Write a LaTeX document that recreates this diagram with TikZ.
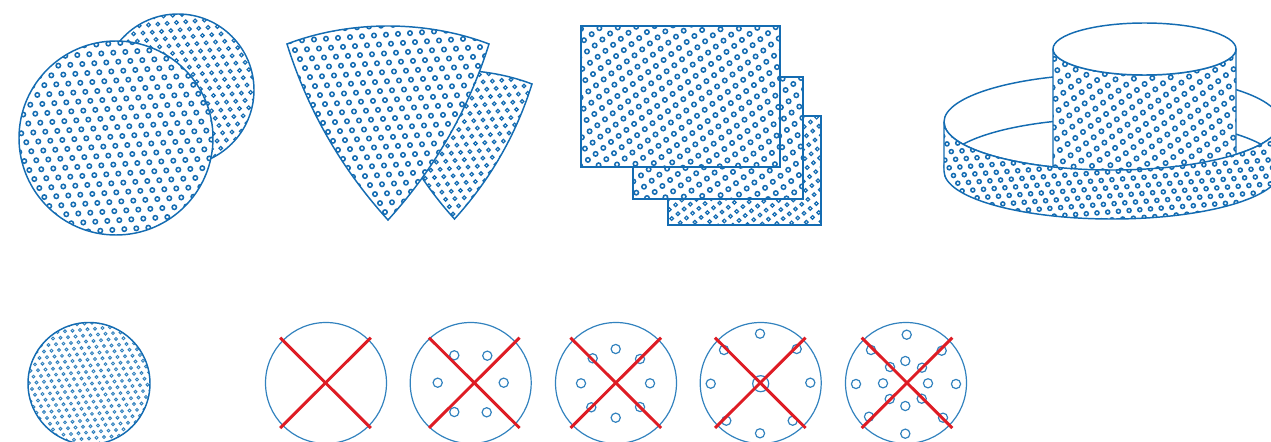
\documentclass[tikz,border=0pt]{standalone}
\usepackage{amsmath}
\usepackage{color}
\usepackage{tikz}

\definecolor{holeblue}{RGB}{20,108,178}
\definecolor{thinblue}{RGB}{50,130,190}
\definecolor{crossred}{RGB}{222,28,36}

\tikzset{
	sheet/.style={draw=holeblue, line width=1.1pt},
	holeline/.style={draw=holeblue, line width=1.15pt},
	smallholes/.style={holeline/.style={draw=holeblue, line width=0.9pt}},
	tinyholes/.style={holeline/.style={draw=thinblue, line width=0.7pt}},
	bigring/.style={draw=holeblue, line width=1.1pt},
	wafer/.style={draw=thinblue, line width=0.9pt},
	waferhole/.style={draw=thinblue, line width=0.9pt},
	crossline/.style={draw=crossred, line width=2.2pt, line cap=square}
}

\newcommand{\holebox}[4]{\def\boxcx{#1}\def\boxcy{#2}\def\boxhw{#3}\def\boxhh{#4}}

\newcommand{\holepatch}[9]{
	\fill[white] #1;
	\begin{scope}
		\clip #1;
		\foreach \i in {-#9,...,#9} {\foreach \j in {-#9,...,#9} {
			\pgfmathsetmacro{\hx}{#2+\i*#4+\j*#6}
			\pgfmathsetmacro{\hy}{#3+\i*#5+\j*#7}
			\pgfmathparse{(abs(\hx-\boxcx)<\boxhw && abs(\hy-\boxcy)<\boxhh) ? 1 : 0}
			\ifnum\pgfmathresult=1
				\draw[holeline] (\hx,\hy) circle[radius=#8];
			\fi
		}}
	\end{scope}
	\draw[sheet] #1;
}

\begin{document}
\begin{tikzpicture}[x=0.75pt, y=0.75pt, yscale=-1]
	\useasboundingbox (0,0) rectangle (1271,442);
	\clip (0,0) rectangle (1271,442);

	\begin{scope}[smallholes]
		\holebox{178}{90}{79}{79}
		\holepatch{(178,90) circle[radius=76]}{185.7}{21.7}{9.3}{-0.8}{3.7}{7.3}{1.8}{22}
	\end{scope}
	\holebox{116}{138}{100}{100}
	\holepatch{(116,138) circle[radius=97]}{113.3}{52.7}{12}{-0.78}{5}{9}{2.2}{24}

	\begin{scope}[smallholes]
		\holebox{475}{142}{60}{80}
		\holepatch{(377,84) .. controls (425.4,65.6) and (483.6,65.6) .. (532,84) .. controls (516.1,134.6) and (490.3,179.6) .. (454.5,219) .. controls (418.7,179.6) and (392.9,134.6) .. (377,84) -- cycle}{501.7}{80.3}{9.3}{-0.8}{3.7}{7.3}{1.8}{22}
	\end{scope}
	\holebox{388}{122}{104}{100}
	\holepatch{(287,44) .. controls (350,20) and (426,20) .. (489,44) .. controls (468.3,110) and (434.7,168.6) .. (388,220) .. controls (341.3,168.6) and (307.7,110) .. (287,44) -- cycle}{386}{34.7}{12}{-0.8}{5}{9}{2.2}{26}

	\begin{scope}[smallholes]
		\holebox{745}{170}{80}{58}
		\holepatch{(668,116) rectangle (821,225)}{812.7}{131}{8.5}{4.2}{-6.2}{4.8}{1.8}{22}
	\end{scope}
	\holebox{718}{138}{88}{64}
	\holepatch{(633,77) rectangle (803,199)}{793.3}{84}{10.7}{5.3}{-7.7}{6}{2.2}{22}
	\holebox{680}{96}{102}{73}
	\holepatch{(581,26) rectangle (780,167)}{683.7}{30.7}{10.7}{5.3}{-7.7}{6}{2.2}{22}

	\draw[bigring] (1112,122) ellipse[x radius=168, y radius=48];
	\draw[bigring] (1112,166.5) ellipse[x radius=168, y radius=48];
	\holebox{1144}{112}{95}{64}
	\holepatch{(1053,49) -- (1053,174) -- (1236,174) -- (1236,49) arc[start angle=0, end angle=180, x radius=91.5, y radius=26] -- cycle}{1152.3}{78}{10.7}{5.3}{-7.7}{6}{2.2}{20}
	\draw[bigring, fill=white] (1144.5,49) ellipse[x radius=91.5, y radius=26];
	\holebox{1108}{172}{168}{50}
	\holepatch{(944,122) arc[start angle=180, end angle=0, x radius=168, y radius=48] -- (1280,171) arc[start angle=0, end angle=180, x radius=168, y radius=48] -- cycle}{1144}{177.3}{10.7}{-0.8}{4.3}{7.7}{2}{24}

	\begin{scope}[tinyholes]
		\holebox{89}{383}{62}{62}
		\holepatch{(89,383.5) circle[radius=61]}{80}{330}{7.5}{-0.67}{3}{5.8}{1.45}{22}
	\end{scope}

	\foreach \cx in {326, 470.7, 616, 760.7, 906} {
		\draw[wafer] (\cx,383) circle[radius=60.5];
	}

	\foreach \hx/\hy in {454.3/355.3, 487.3/355.7, 437.7/382.7, 503.7/382.7, 454.3/412, 486.7/412.3,
		592.7/358.3, 615.7/349, 640/359, 581/383.3, 650/383.3, 591.3/407.3, 615.7/417.7, 640/407,
		760/333.7, 724/350, 796.7/349, 710.7/383.7, 810.3/382.7, 726.3/420.7, 792.7/420.7, 760/433.3,
		906.7/334.7, 871/350, 941.7/350.7, 890/367, 905.3/361, 922/367.7, 856/384, 883/383.3, 928/383.3, 956/384, 889.7/399, 905.3/406, 921.7/398.7, 869/416.7, 943/417.7, 905.3/433.7} {
		\draw[waferhole] (\hx,\hy) circle[radius=4.6];
	}
	\draw[waferhole] (760.7,383.7) circle[radius=8];

	\foreach \kx in {325.5, 474.3, 615.8, 760.3, 907} {
		\draw[crossline] (\kx-45.3,337.7) -- (\kx+45.3,428);
		\draw[crossline] (\kx+45.3,337.7) -- (\kx-45.3,428);
	}
\end{tikzpicture}
\end{document}
